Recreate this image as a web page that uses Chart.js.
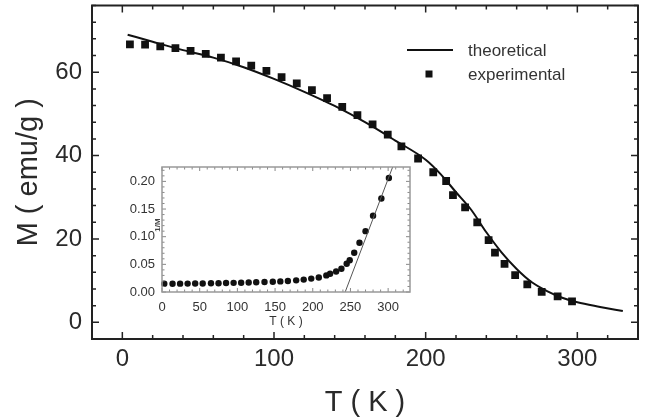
<!DOCTYPE html>
<html>
<head>
<meta charset="utf-8">
<script src="https://cdn.jsdelivr.net/npm/chart.js@4.4.0/dist/chart.umd.min.js"></script>
<style>
  html, body { margin: 0; padding: 0; background: #fff; }
  #wrap { position: relative; width: 651px; height: 420px; overflow: hidden; }
  #main { position: absolute; left: 0; top: 0; }
  #inset { position: absolute; left: 110px; top: 160px; }
</style>
</head>
<body>
<div id="wrap">
  <canvas id="main" width="651" height="420"></canvas>
  <canvas id="inset" width="310" height="172"></canvas>
</div>
<script>
// main panel: M(T)
const tempExp = [5, 15, 25, 35, 45, 55, 65, 75, 85, 95, 105, 115, 125, 135, 145, 155, 165, 175, 184, 195,
  205, 213.5, 218, 226, 234, 241.5, 245.7, 252, 259, 267, 276.5, 287, 296.5];
const magExp = [66.7, 66.6, 66.2, 65.8, 65.1, 64.4, 63.5, 62.6, 61.6, 60.3, 58.8, 57.3, 55.7, 53.8, 51.7, 49.7, 47.5, 45.0, 42.2, 39.3,
  36.0, 33.9, 30.5, 27.6, 24.0, 19.7, 16.7, 14.0, 11.3, 9.1, 7.3, 6.2, 5.0];
const tempTheo = [3.5, 20, 40, 60, 80, 100, 120, 140, 160, 180, 200, 210, 220, 230, 240, 250, 260, 270, 280, 290, 300, 315, 330];
const magTheo = [69.0, 67.3, 65.3, 63.5, 61.2, 58.4, 55.3, 51.9, 48.0, 43.6, 39.0, 35.5, 31.2, 27.0, 21.6, 16.8, 12.8, 9.6, 7.5, 5.9, 4.8, 3.7, 2.7];
const xTicks = [0, 100, 200, 300];
const yTicks = [0, 20, 40, 60];

// inset: 1/M(T)
const insetTemp = [3, 14, 24, 34, 44, 54, 65, 75, 85, 95, 105, 115, 125, 136, 147, 157, 167, 178, 188, 198,
  208, 218, 223, 231, 238, 245, 249, 255, 262, 270, 280, 291, 301];
const insetInvM = [0.0150, 0.0150, 0.0151, 0.0152, 0.0153, 0.0155, 0.0157, 0.0159, 0.0162, 0.0165, 0.0168, 0.0172, 0.0176, 0.0180, 0.0185, 0.0192, 0.0200, 0.0211, 0.0224, 0.0242,
  0.0262, 0.0300, 0.0330, 0.0370, 0.0420, 0.0510, 0.0575, 0.0710, 0.0890, 0.1100, 0.1380, 0.1690, 0.2060];
const fitTemp = [243, 306];
const fitInvM = [0, 0.226];
const insetXTicks = [0, 50, 100, 150, 200, 250, 300];
const insetYTicks = [0, 0.05, 0.10, 0.15, 0.20];

const FONT = "'Liberation Sans', Arial, sans-serif";
const ink = '#2a2a2a';

const toXY = (xs, ys) => xs.map((x, i) => ({ x, y: ys[i] }));

// fixed axis sizes, no label overflow padding
const fixHeight = h => s => { s.height = h; s.paddingLeft = 0; s.paddingRight = 0; };
const fixWidth = w => s => { s.width = w; s.paddingTop = 0; s.paddingBottom = 0; };

// ticks pointing inward on all four sides + frame
const inwardTicks = {
  id: 'inwardTicks',
  afterDraw(chart, args, o) {
    const { ctx, chartArea: a, scales: { x, y } } = chart;
    ctx.save();
    ctx.strokeStyle = o.color;
    ctx.lineWidth = o.tickWidth;
    ctx.beginPath();
    const nx0 = Math.ceil(x.min / o.xMinor - 1e-9), nx1 = Math.floor(x.max / o.xMinor + 1e-9);
    for (let n = nx0; n <= nx1; n++) {
      const v = n * o.xMinor;
      const major = Math.abs(v / o.xMajor - Math.round(v / o.xMajor)) < 1e-6;
      const len = major ? o.major : o.minor;
      const px = x.getPixelForValue(v);
      ctx.moveTo(px, a.bottom); ctx.lineTo(px, a.bottom - len);
      ctx.moveTo(px, a.top); ctx.lineTo(px, a.top + len);
    }
    const ny0 = Math.ceil(y.min / o.yMinor - 1e-9), ny1 = Math.floor(y.max / o.yMinor + 1e-9);
    for (let n = ny0; n <= ny1; n++) {
      const v = n * o.yMinor;
      const major = Math.abs(v / o.yMajor - Math.round(v / o.yMajor)) < 1e-6;
      const len = major ? o.major : o.minor;
      const py = y.getPixelForValue(v);
      ctx.moveTo(a.left, py); ctx.lineTo(a.left + len, py);
      ctx.moveTo(a.right, py); ctx.lineTo(a.right - len, py);
    }
    ctx.stroke();
    ctx.strokeStyle = o.frameColor;
    ctx.lineWidth = o.frameWidth;
    ctx.strokeRect(a.left, a.top, a.right - a.left, a.bottom - a.top);
    ctx.restore();
  }
};

// legend inside the plot, upper right
const innerLegend = {
  id: 'innerLegend',
  afterDraw(chart) {
    const { ctx } = chart;
    const [theo, exp] = chart.data.datasets;
    ctx.save();
    ctx.strokeStyle = theo.borderColor;
    ctx.lineWidth = theo.borderWidth;
    ctx.beginPath(); ctx.moveTo(407, 50); ctx.lineTo(453, 50); ctx.stroke();
    ctx.fillStyle = exp.backgroundColor;
    ctx.fillRect(425.5, 70.5, 7, 7);
    ctx.fillStyle = '#333';
    ctx.font = '17px ' + FONT;
    ctx.textBaseline = 'middle';
    ctx.fillText(theo.label, 468, 51);
    ctx.fillText(exp.label, 468, 75);
    ctx.restore();
  }
};

new Chart(document.getElementById('main'), {
  type: 'scatter',
  data: {
    datasets: [
      {
        label: 'theoretical', type: 'line', data: toXY(tempTheo, magTheo),
        borderColor: '#111', borderWidth: 2, pointRadius: 0, fill: false,
        cubicInterpolationMode: 'monotone'
      },
      {
        label: 'experimental', data: toXY(tempExp, magExp),
        pointStyle: 'rect', pointRadius: 5.5, backgroundColor: '#111', borderColor: '#111', borderWidth: 0
      }
    ]
  },
  options: {
    responsive: false, animation: false, events: [],
    layout: { padding: { left: 0, top: 5, right: 13, bottom: 0 } },
    plugins: {
      legend: { display: false }, tooltip: { enabled: false },
      inwardTicks: { color: '#222', tickWidth: 1.5, frameColor: '#222', frameWidth: 2,
        major: 7, minor: 4, xMajor: 100, xMinor: 20, yMajor: 20, yMinor: 4 }
    },
    scales: {
      x: {
        type: 'linear', min: -20, max: 340,
        afterBuildTicks: s => { s.ticks = xTicks.map(v => ({ value: v })); },
        afterFit: fixHeight(81),
        grid: { display: false, drawTicks: false }, border: { display: false },
        ticks: { padding: 6, color: ink, font: { family: FONT, size: 24 }, maxRotation: 0, autoSkip: false },
        title: { display: true, text: 'T ( K )', color: ink, font: { family: FONT, size: 29 }, padding: { top: 0, bottom: 0 } }
      },
      y: {
        type: 'linear', min: -4, max: 76,
        afterBuildTicks: s => { s.ticks = yTicks.map(v => ({ value: v })); },
        afterFit: fixWidth(92),
        grid: { display: false, drawTicks: false }, border: { display: false },
        ticks: { padding: 10, color: ink, font: { family: FONT, size: 24 }, autoSkip: false },
        title: { display: true, text: 'M ( emu/g )', color: ink, font: { family: FONT, size: 29 }, padding: { top: 11.6, bottom: 0 } }
      }
    }
  },
  plugins: [inwardTicks, innerLegend]
});

// "1/M" label squeezed between tick labels and frame
const insetYLabel = {
  id: 'insetYLabel',
  afterDraw(chart) {
    const { ctx, chartArea: a } = chart;
    ctx.save();
    ctx.translate(a.left - 4, 225 - 160);
    ctx.rotate(-Math.PI / 2);
    ctx.fillStyle = '#444';
    ctx.font = 'bold 8px ' + FONT;
    ctx.textAlign = 'center';
    ctx.textBaseline = 'middle';
    ctx.fillText('1/M', 0, 0);
    ctx.restore();
  }
};

new Chart(document.getElementById('inset'), {
  type: 'scatter',
  data: {
    datasets: [
      {
        label: 'fit', type: 'line', data: toXY(fitTemp, fitInvM),
        borderColor: '#555', borderWidth: 1, pointRadius: 0, fill: false
      },
      {
        label: '1/M', data: toXY(insetTemp, insetInvM),
        pointStyle: 'circle', pointRadius: 3.2, backgroundColor: '#111', borderColor: '#111', borderWidth: 0
      }
    ]
  },
  options: {
    responsive: false, animation: false, events: [],
    layout: { padding: { left: 0, top: 7, right: 10, bottom: 0 } },
    plugins: {
      legend: { display: false }, tooltip: { enabled: false },
      inwardTicks: { color: '#888', tickWidth: 1, frameColor: '#999', frameWidth: 1.5,
        major: 4, minor: 2.5, xMajor: 50, xMinor: 10, yMajor: 0.05, yMinor: 0.01 }
    },
    scales: {
      x: {
        type: 'linear', min: 0, max: 329,
        afterBuildTicks: s => { s.ticks = insetXTicks.map(v => ({ value: v })); },
        afterFit: fixHeight(40),
        grid: { display: false, drawTicks: false }, border: { display: false },
        ticks: { padding: 8, color: '#333', font: { family: FONT, size: 13 }, maxRotation: 0, autoSkip: false },
        title: { display: true, text: 'T ( K )', color: '#333', font: { family: FONT, size: 12 }, padding: { top: 0, bottom: 2.8 } }
      },
      y: {
        type: 'linear', min: 0, max: 0.226,
        afterBuildTicks: s => { s.ticks = insetYTicks.map(v => ({ value: v })); },
        afterFit: fixWidth(52),
        grid: { display: false, drawTicks: false }, border: { display: false },
        ticks: { padding: 7, color: '#333', font: { family: FONT, size: 13 }, autoSkip: false,
          callback: v => v.toFixed(2) }
      }
    },
    clip: false
  },
  plugins: [inwardTicks, insetYLabel]
});
</script>
</body>
</html>
